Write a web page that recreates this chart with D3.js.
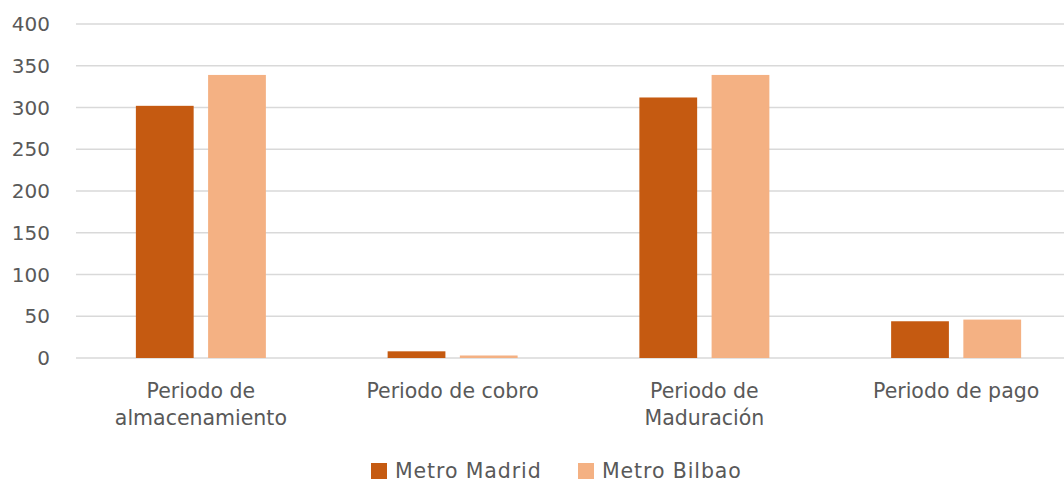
<!DOCTYPE html>
<html lang="es">
<head>
<meta charset="utf-8">
<title>Periodos medios - Metro Madrid vs Metro Bilbao</title>
<script src="https://cdn.jsdelivr.net/npm/d3@7"></script>
<style>
  body { margin: 0; background: #fff; }
  text { font-family: "DejaVu Sans", sans-serif; fill: #595959; }
  .grid line { stroke: #d9d9d9; stroke-width: 1.5; }
</style>
</head>
<body>
<script>
// chart data
var categories = [
  ["Periodo de", "almacenamiento"],
  ["Periodo de cobro"],
  ["Periodo de", "Maduración"],
  ["Periodo de pago"]
];
var series = ["Metro Madrid", "Metro Bilbao"];
var madrid = [302, 8, 312, 44];
var bilbao = [339, 3, 339, 46];
var yTicks = [0, 50, 100, 150, 200, 250, 300, 350, 400];
var colors = ["#c55a11", "#f4b183"];

var width = 1064, height = 482;
// note: "top" clashes with window.top, so keep these names distinct
var plotLeft = 75, plotRight = 1082, plotTop = 24, plotBottom = 358;

var svg = d3.select("body").append("svg")
  .attr("width", width)
  .attr("height", height);

var y = d3.scaleLinear().domain([0, 400]).range([plotBottom, plotTop]);
var x0 = d3.scaleBand().domain(d3.range(categories.length)).range([plotLeft, plotRight]);
var x1 = d3.scaleBand().domain(series).range([0, 130]).paddingInner(0.2);

// gridlines
svg.append("g").attr("class", "grid")
  .selectAll("line")
  .data(yTicks)
  .enter().append("line")
  .attr("x1", 76).attr("x2", width)
  .attr("y1", function(d){ return y(d); })
  .attr("y2", function(d){ return y(d); });

// y labels
svg.append("g")
  .selectAll("text")
  .data(yTicks)
  .enter().append("text")
  .attr("x", 50)
  .attr("y", function(d){ return y(d); })
  .attr("dy", "0.36em")
  .attr("text-anchor", "end")
  .style("font-size", "20px")
  .text(function(d){ return d; });

// bars
var rows = categories.map(function(c, i){ return [madrid[i], bilbao[i]]; });
var groups = svg.append("g")
  .selectAll("g")
  .data(rows)
  .enter().append("g")
  .attr("transform", function(d, i){
    return "translate(" + (x0(i) + (x0.bandwidth() - 130) / 2) + ",0)";
  });

groups.selectAll("rect")
  .data(function(d){ return d.map(function(v, j){ return {s: series[j], v: v, j: j}; }); })
  .enter().append("rect")
  .attr("x", function(d){ return x1(d.s); })
  .attr("width", x1.bandwidth())
  .attr("y", function(d){ return y(d.v); })
  .attr("height", function(d){ return y(0) - y(d.v); })
  .attr("fill", function(d){ return colors[d.j]; });

// category labels
var labels = svg.append("g")
  .selectAll("text")
  .data(categories)
  .enter().append("text")
  .attr("text-anchor", "middle")
  .attr("transform", function(d, i){ return "translate(" + (x0(i) + x0.bandwidth() / 2) + ",398)"; })
  .style("font-size", "20.5px");

labels.selectAll("tspan")
  .data(function(d){ return d; })
  .enter().append("tspan")
  .attr("x", 0)
  .attr("y", function(d, i){ return i * 27; })
  .text(function(d){ return d; });

// legend
var legendX = [371, 578];
var legend = svg.append("g")
  .selectAll("g")
  .data(series)
  .enter().append("g")
  .attr("transform", function(d, i){ return "translate(" + legendX[i] + ",463)"; });

legend.append("rect")
  .attr("width", 16).attr("height", 16)
  .attr("fill", function(d, i){ return colors[i]; });

legend.append("text")
  .attr("x", 24)
  .attr("y", 15)
  .style("font-size", "20.5px")
  .style("letter-spacing", "0.9px")
  .text(function(d){ return d; });
</script>
</body>
</html>
